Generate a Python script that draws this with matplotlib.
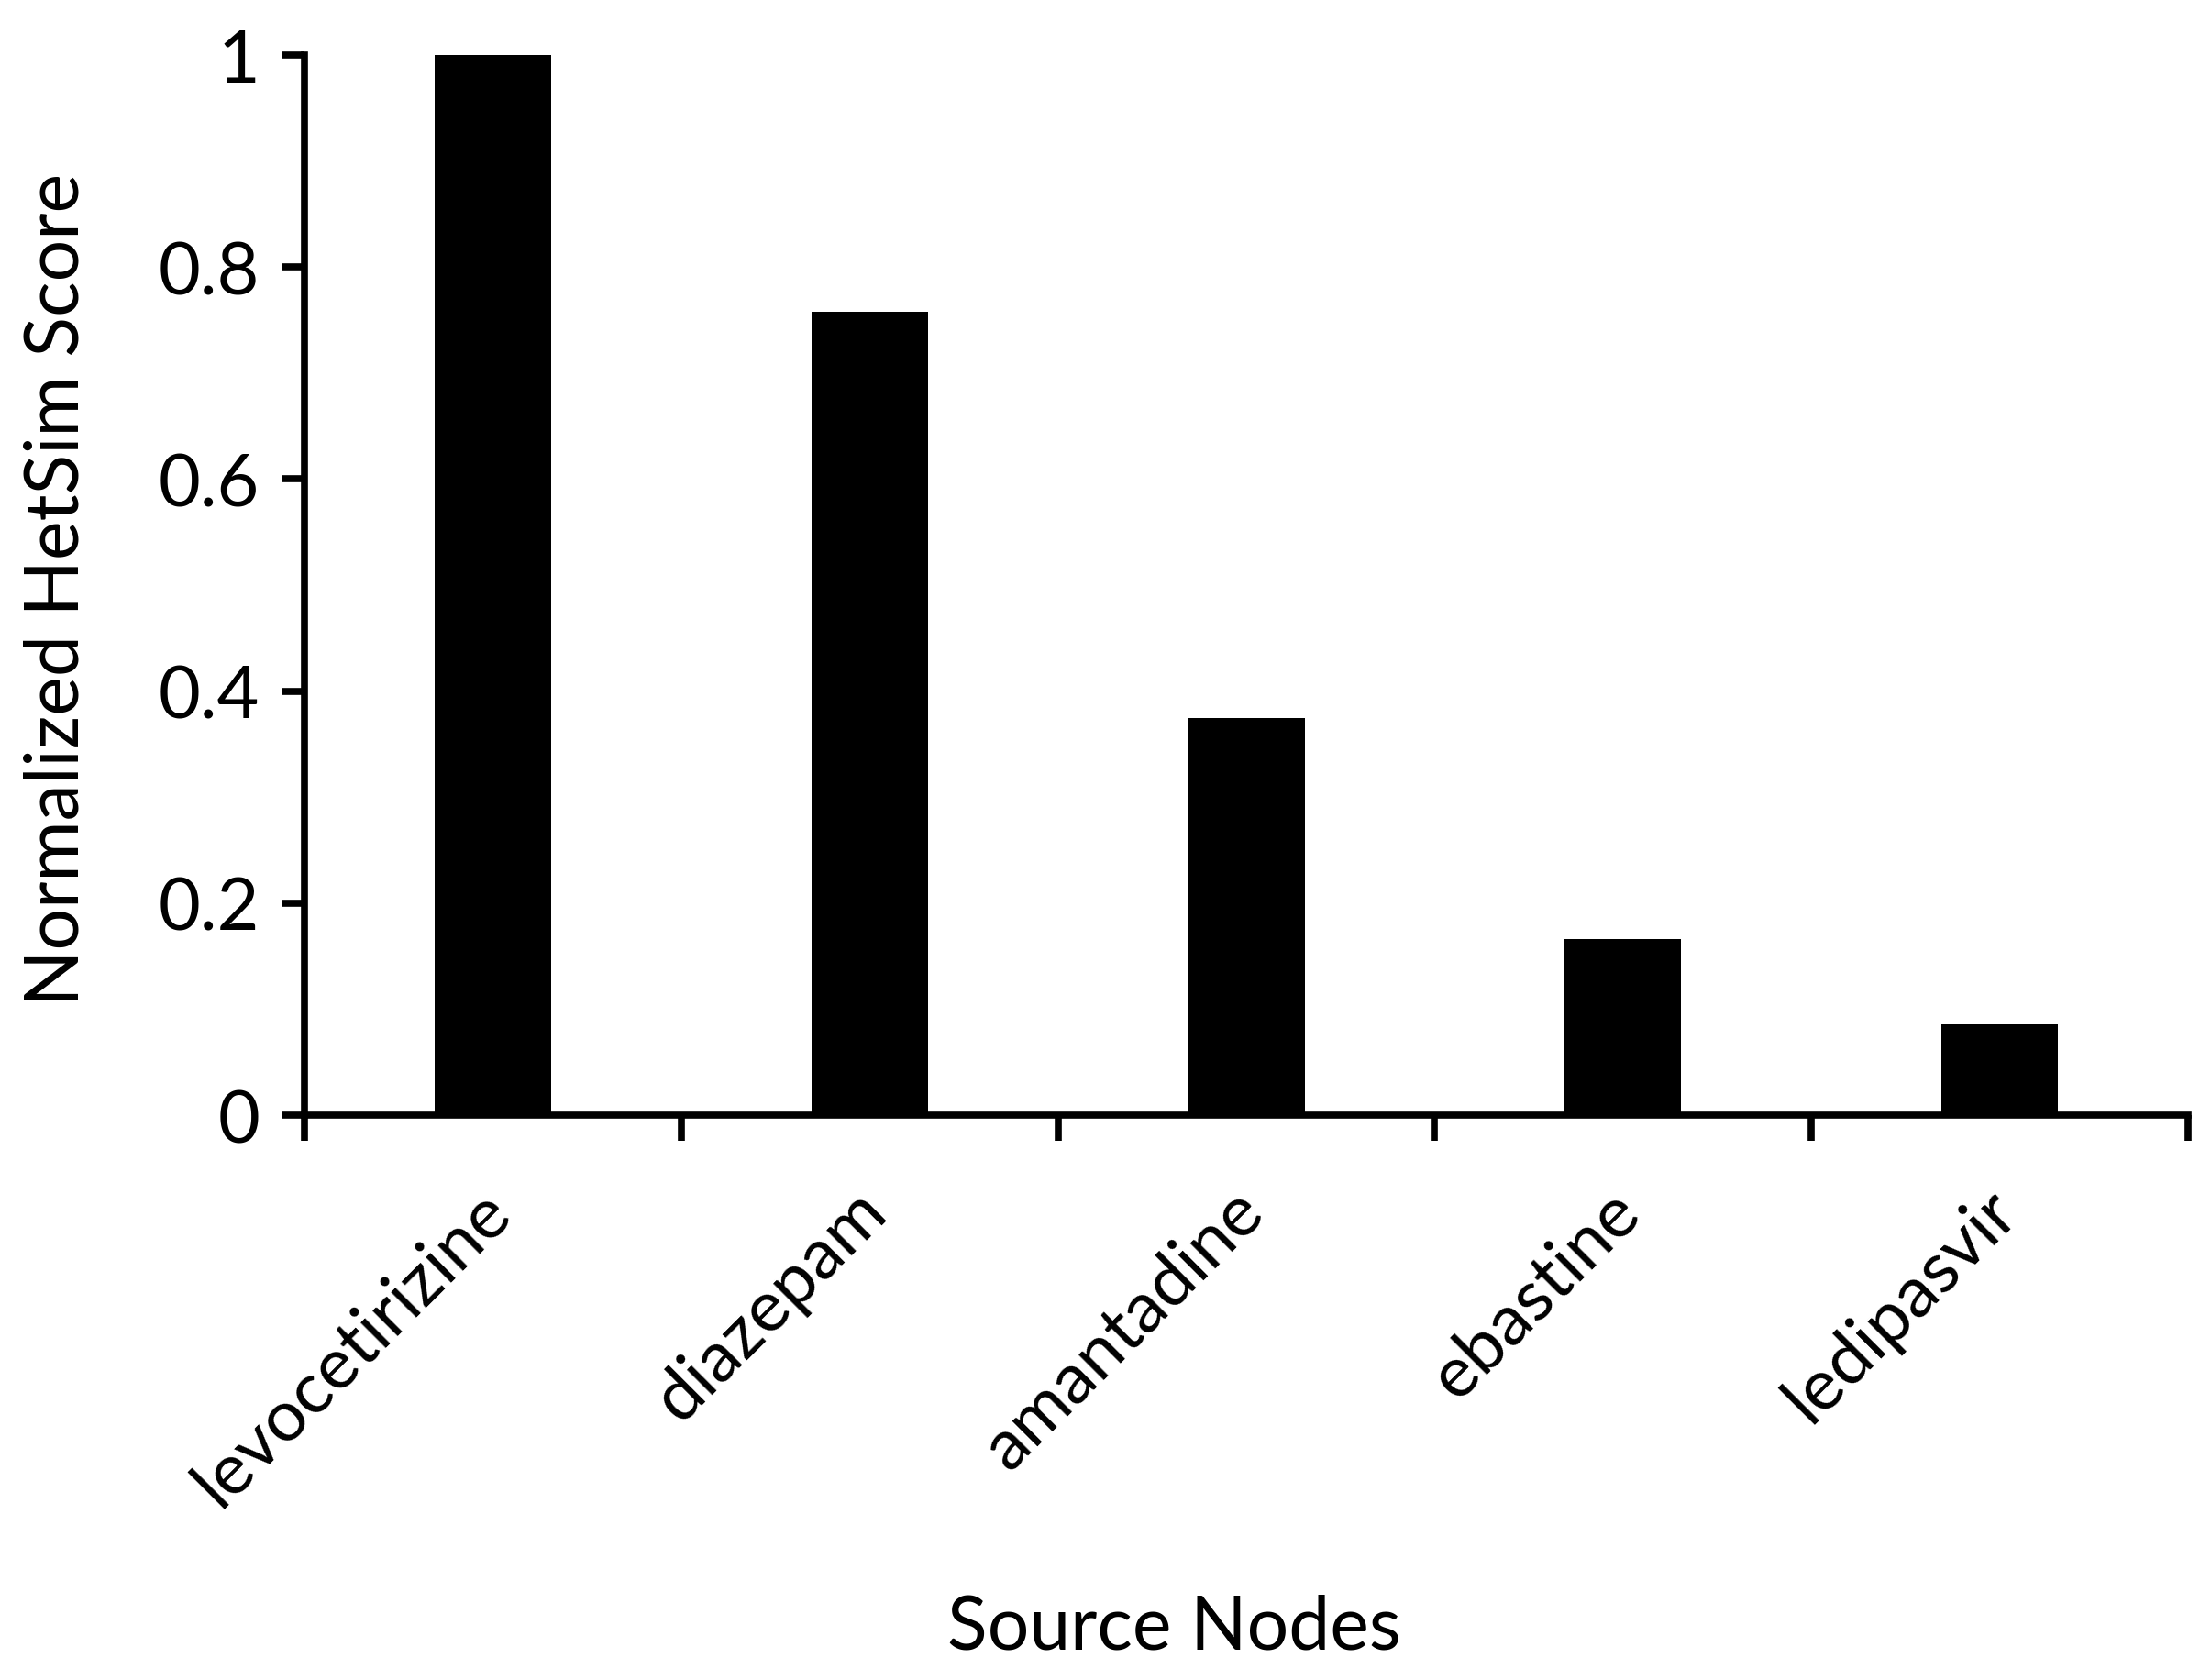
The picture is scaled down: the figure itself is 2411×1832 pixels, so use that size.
import matplotlib
matplotlib.use('Agg')
import matplotlib.pyplot as plt
import matplotlib.transforms as mtransforms
import numpy as np

drugs = ['levocetirizine', 'diazepam', 'amantadine', 'ebastine', 'ledipasvir']
scores = [1.0, 0.758, 0.375, 0.166, 0.086]
yticks = [0, 0.2, 0.4, 0.6, 0.8, 1]
ytick_labels = ['0', '0.2', '0.4', '0.6', '0.8', '1']

plt.rcParams['font.family'] = ['Lato', 'DejaVu Sans']

fig = plt.figure(figsize=(24.11, 18.33), dpi=100)
ax = fig.add_axes([0.1377, 0.336, 0.8519, 0.6307])

x = np.arange(len(drugs))
ax.bar(x, scores, width=0.31, color='black')

ax.set_xlim(-0.5, len(drugs) - 0.5)
ax.set_ylim(0, 1)
ax.set_yticks(yticks)
ax.set_yticklabels(ytick_labels, fontsize=57)

# ticks sit between categories, labels at the centers
ax.set_xticks(np.arange(-0.5, len(drugs), 1.0))
ax.set_xticklabels([])
ax.set_xticks(x, minor=True)
ax.set_xticklabels(drugs, minor=True, rotation=45, ha='right',
                   rotation_mode='anchor', fontsize=56)
ax.tick_params(axis='x', which='minor', length=0, pad=40)
ax.tick_params(axis='x', which='major', length=20, width=5.5, direction='out')
ax.tick_params(axis='y', length=17, width=5.5, direction='out', pad=18)

shift = mtransforms.ScaledTranslation(-0.18, -0.12, fig.dpi_scale_trans)
for lab in ax.get_xticklabels(minor=True):
    lab.set_transform(lab.get_transform() + shift)

for s in ['top', 'right']:
    ax.spines[s].set_visible(False)
for s in ['left', 'bottom']:
    ax.spines[s].set_linewidth(5.5)

ax.set_ylabel('Normalized HetSim Score', fontsize=58, va='center')
ax.yaxis.set_label_coords(-0.131, 0.497)
fig.text(0.531, 1 - 1776 / 1833, 'Source Nodes', fontsize=58,
         ha='center', va='center')

fig.savefig('out.png', dpi=100, facecolor='white')
